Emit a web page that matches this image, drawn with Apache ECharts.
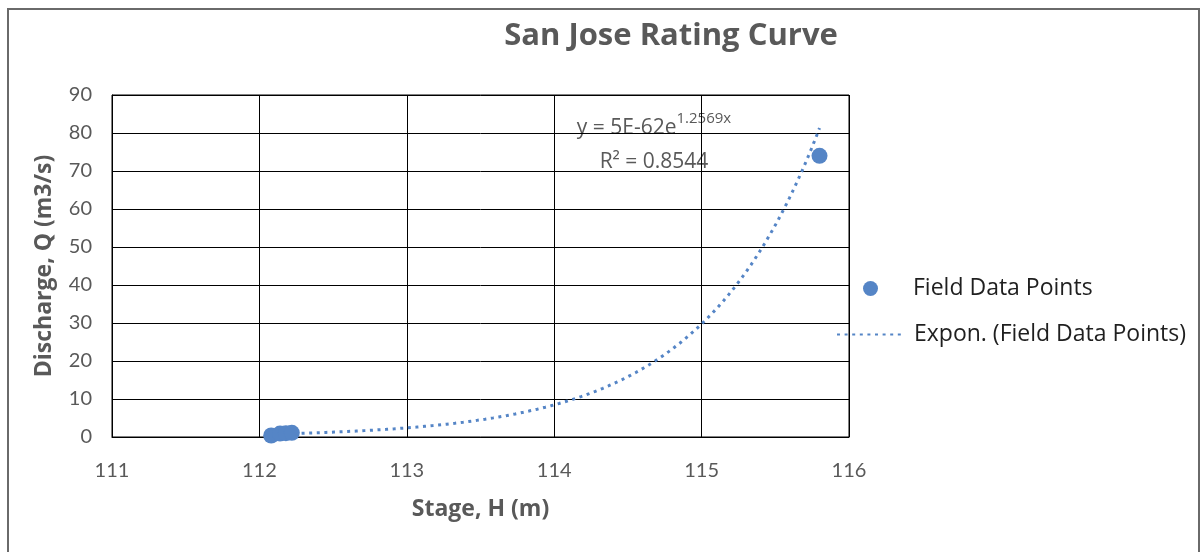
<!DOCTYPE html>
<html>
<head>
<meta charset="utf-8">
<title>San Jose Rating Curve</title>
<script src="https://cdn.jsdelivr.net/npm/echarts@6/dist/echarts.min.js"></script>
<style>
  html, body { margin: 0; padding: 0; background: #ffffff; }
  #chart { width: 1200px; height: 552px; }
</style>
</head>
<body>
<div id="chart"></div>
<script>
// Field measurements: stage H (m) and discharge Q (m3/s)
const stageH = [112.08, 112.14, 112.18, 112.22, 115.80];
const dischargeQ = [0.4, 0.9, 1.0, 1.1, 74];

// Exponential trendline Q = A * e^(B * H), as stated in its label
const trendA = 5e-62;
const trendB = 1.2569;
const trendR2 = 0.8544;

// Axis ticks
const xTicks = [111, 112, 113, 114, 115, 116];
const yTicks = [0, 10, 20, 30, 40, 50, 60, 70, 80, 90];

const seriesName = 'Field Data Points';
const trendName = 'Expon. (Field Data Points)';

const points = stageH.map((h, i) => [h, dischargeQ[i]]);

// Trendline spans the measured stage range
const hMin = Math.min(...stageH);
const hMax = Math.max(...stageH);
const trend = [];
const steps = 200;
for (let i = 0; i <= steps; i++) {
  const h = hMin + (hMax - hMin) * i / steps;
  trend.push([h, trendA * Math.exp(trendB * h)]);
}

const SANS = '"Open Sans", "Noto Sans", sans-serif';
const TICK_FONT = 'Lato, "Open Sans", sans-serif';
const GREY = '#595959';
const BLUE = '#5585c6';

const chart = echarts.init(document.getElementById('chart'), null, { renderer: 'canvas' });

chart.setOption({
  animation: false,
  backgroundColor: '#ffffff',
  textStyle: { fontFamily: SANS },
  title: {
    text: 'San Jose Rating Curve',
    left: 666,
    top: 16,
    textAlign: 'center',
    textStyle: { fontFamily: SANS, fontSize: 31, fontWeight: 'bold', color: GREY }
  },
  grid: {
    left: 112, top: 95, right: 351, bottom: 115,
    show: true, borderColor: '#000000', borderWidth: 1, backgroundColor: 'transparent'
  },
  legend: [
    {
      data: [{ name: seriesName, icon: 'circle' }],
      left: 863, top: 277, padding: 0,
      itemWidth: 15, itemHeight: 15,
      textStyle: { fontFamily: SANS, fontSize: 23, color: '#1f1f1f', padding: [0, 0, 0, 30] }
    },
    {
      data: [trendName],
      left: 836, top: 323, padding: 0,
      itemWidth: 64, itemHeight: 14,
      itemStyle: { opacity: 0 },
      textStyle: { fontFamily: SANS, fontSize: 23, color: '#1f1f1f', padding: [0, 0, 0, 8] }
    }
  ],
  xAxis: {
    type: 'value',
    min: xTicks[0], max: xTicks[xTicks.length - 1], interval: 1,
    name: 'Stage, H (m)',
    nameLocation: 'middle',
    nameGap: 61,
    nameTextStyle: { fontFamily: SANS, fontSize: 23, fontWeight: 'bold', color: GREY },
    axisLine: { show: true, lineStyle: { color: '#000000', width: 1 } },
    axisTick: { show: false },
    axisLabel: { margin: 24, fontSize: 20, color: GREY, fontFamily: TICK_FONT },
    splitLine: { show: true, lineStyle: { color: '#000000', width: 1 } }
  },
  yAxis: {
    type: 'value',
    min: yTicks[0], max: yTicks[yTicks.length - 1], interval: 10,
    name: 'Discharge, Q (m3/s)',
    nameLocation: 'middle',
    nameGap: 56,
    nameTextStyle: { fontFamily: SANS, fontSize: 23, fontWeight: 'bold', color: GREY },
    axisLine: { show: true, lineStyle: { color: '#000000', width: 1 } },
    axisTick: { show: false },
    axisLabel: { margin: 20, fontSize: 20, color: GREY, fontFamily: TICK_FONT },
    splitLine: { show: true, lineStyle: { color: '#000000', width: 1 } }
  },
  series: [
    {
      name: trendName,
      type: 'line',
      data: trend,
      symbol: 'none',
      smooth: false,
      z: 2,
      lineStyle: { color: BLUE, width: 3, type: [3, 4.6] },
      itemStyle: { color: BLUE }
    },
    {
      name: seriesName,
      type: 'scatter',
      data: points,
      symbol: 'circle',
      symbolSize: 16,
      z: 3,
      itemStyle: { color: BLUE, opacity: 1 }
    }
  ],
  graphic: [
    {
      type: 'rect',
      shape: { x: 8, y: 9, width: 1191, height: 560 },
      style: { fill: 'none', stroke: '#6a6a6a', lineWidth: 2 },
      silent: true
    },
    {
      type: 'text',
      x: 654, y: 111,
      style: {
        text: '{a|y = 5E-62e}{s|1.2569x}\n{a|R² = ' + trendR2 + '}',
        align: 'center',
        fill: GREY,
        rich: {
          a: { fontFamily: SANS, fontSize: 21, fill: GREY, lineHeight: 34 },
          s: { fontFamily: SANS, fontSize: 15, fill: GREY, lineHeight: 34, verticalAlign: 'top', padding: [0, 0, 10, 0] }
        }
      }
    }
  ]
});
</script>
</body>
</html>
